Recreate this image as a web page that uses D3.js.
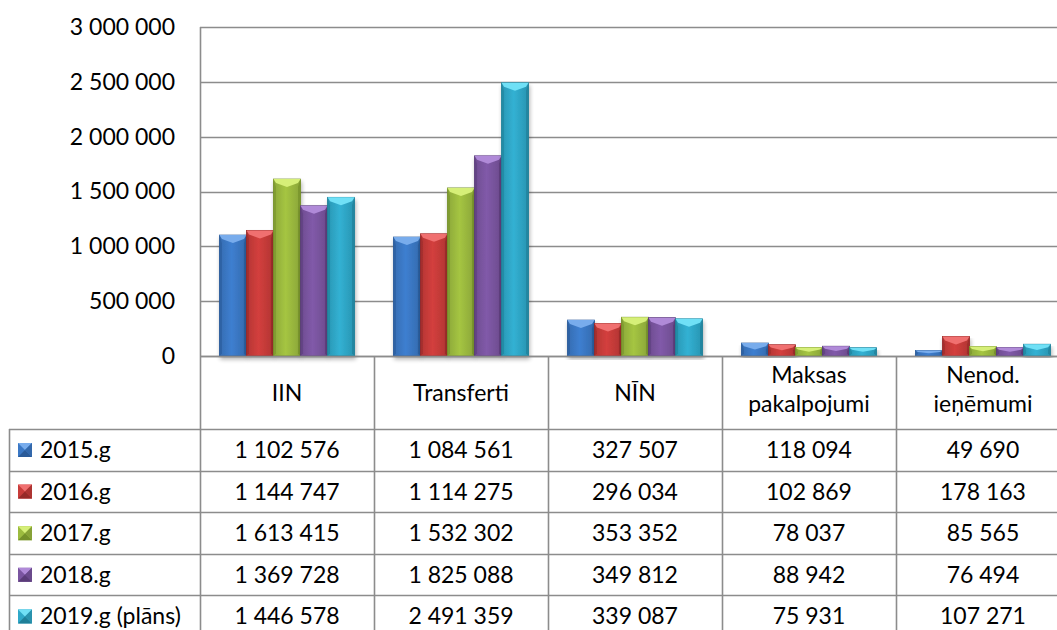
<!DOCTYPE html>
<html>
<head>
<meta charset="utf-8">
<script src="https://cdn.jsdelivr.net/npm/d3@7"></script>
<style>
  body { margin: 0; background: #fff; }
  svg { display: block; font-family: Lato, "Open Sans", sans-serif; }
</style>
</head>
<body>
<div id="chart"></div>
<script>
var svgWidth = 1057;
var svgHeight = 630;

var categories = ["IIN", "Transferti", "NĪN", "Maksas\npakalpojumi", "Nenod.\nieņēmumi"];
var seriesNames = ["2015.g", "2016.g", "2017.g", "2018.g", "2019.g (plāns)"];
var v2015 = [1102576, 1084561, 327507, 118094, 49690];
var v2016 = [1144747, 1114275, 296034, 102869, 178163];
var v2017 = [1613415, 1532302, 353352, 78037, 85565];
var v2018 = [1369728, 1825088, 349812, 88942, 76494];
var v2019 = [1446578, 2491359, 339087, 75931, 107271];
var yTicks = [0, 500000, 1000000, 1500000, 2000000, 2500000, 3000000];

var seriesValues = [v2015, v2016, v2017, v2018, v2019];

// base, light (top bevel), dark (side bevel)
var colors = [
  { base: "#3b78c5", light: "#78acec", dark: "#2a5a98" },
  { base: "#c83c3a", light: "#f07070", dark: "#962a28" },
  { base: "#9cbb3f", light: "#d6ef78", dark: "#74902a" },
  { base: "#7a55a0", light: "#b08ad8", dark: "#5a3c78" },
  { base: "#2fa8c8", light: "#70e0f6", dark: "#1f7f98" }
];

var plotLeft = 200, plotTop = 27, zeroY = 356;
var cellW = 174;
var headerBottom = 429;
var rowH = 41.6;
var tableLeft = 9;
var gridColor = "#8c8c8c";

var fmt = function(n) { return d3.format(",")(n).replace(/,/g, " "); };

var svg = d3.select("#chart").append("svg")
  .attr("width", svgWidth)
  .attr("height", svgHeight);

var defs = svg.append("defs");
defs.append("filter").attr("id", "shadow")
  .attr("x", "-20%").attr("y", "-5%").attr("width", "140%").attr("height", "115%")
  .html('<feGaussianBlur in="SourceAlpha" stdDeviation="2"/>' +
        '<feOffset dx="1" dy="3" result="b"/>' +
        '<feComponentTransfer><feFuncA type="linear" slope="0.3"/></feComponentTransfer>' +
        '<feMerge><feMergeNode/><feMergeNode in="SourceGraphic"/></feMerge>');

colors.forEach(function(c, i) {
  var g = defs.append("linearGradient").attr("id", "grad" + i)
    .attr("x1", "0").attr("x2", "1").attr("y1", "0").attr("y2", "0");
  g.append("stop").attr("offset", "0").attr("stop-color", d3.color(c.base).darker(0.3));
  g.append("stop").attr("offset", "0.45").attr("stop-color", d3.color(c.base).brighter(0.15));
  g.append("stop").attr("offset", "1").attr("stop-color", d3.color(c.base).darker(0.35));
});

// scales
var x0 = d3.scaleBand()
  .domain(categories)
  .range([plotLeft, plotLeft + cellW * categories.length])
  .padding(0);

var x1 = d3.scaleBand()
  .domain(seriesNames)
  .range([0, x0.bandwidth()])
  .paddingInner(0)
  .paddingOuter(0.72);

var y = d3.scaleLinear()
  .domain([0, 3000000])
  .range([zeroY, plotTop]);

// gridlines
svg.append("g").selectAll("line")
  .data(yTicks)
  .enter().append("line")
  .attr("x1", plotLeft).attr("x2", svgWidth)
  .attr("y1", d => Math.round(y(d)) + 0.5).attr("y2", d => Math.round(y(d)) + 0.5)
  .attr("stroke", gridColor).attr("stroke-width", 1.6);

// y axis labels
var yAxis = d3.axisLeft(y).tickValues(yTicks).tickFormat(fmt).tickSize(0).tickPadding(25);
var yAxisG = svg.append("g")
  .attr("transform", `translate(${plotLeft},0)`)
  .call(yAxis);
yAxisG.select(".domain").remove();
yAxisG.selectAll("text")
  .attr("font-size", 23)
  .attr("font-family", "Lato, sans-serif")
  .attr("fill", "#000");

// bars
var bars = svg.append("g");
seriesNames.forEach(function(s, si) {
  var c = colors[si];
  categories.forEach(function(cat, ci) {
    var val = seriesValues[si][ci];
    var bx = x0(cat) + x1(s);
    var bw = x1.bandwidth();
    var by = y(val);
    var bh = zeroY - by;
    var bev = Math.min(8, bh / 2);
    var side = Math.min(2.5, bw / 6);
    var g = bars.append("g").attr("filter", "url(#shadow)");
    g.append("rect")
      .attr("x", bx).attr("y", by).attr("width", bw).attr("height", bh)
      .attr("fill", "url(#grad" + si + ")")
      .attr("stroke", c.dark).attr("stroke-width", 0.8);
    // left and right bevel strips
    g.append("polygon")
      .attr("points", [[bx, by], [bx + side, by + bev], [bx + side, zeroY - side], [bx, zeroY]].join(" "))
      .attr("fill", c.dark).attr("opacity", 0.55);
    g.append("polygon")
      .attr("points", [[bx + bw, by], [bx + bw - side, by + bev], [bx + bw - side, zeroY - side], [bx + bw, zeroY]].join(" "))
      .attr("fill", c.dark).attr("opacity", 0.7);
    // top bevel (light chevron)
    g.append("polygon")
      .attr("points", [[bx, by], [bx + bw, by], [bx + bw - side, by + bev * 0.5], [bx + bw / 2, by + bev], [bx + side, by + bev * 0.5]].join(" "))
      .attr("fill", c.light);
  });
});

// data table
var table = svg.append("g");
var rightEdge = plotLeft + cellW * categories.length;
var tableBottom = svgHeight;

// horizontal lines
var hLines = [zeroY];
for (var r = 0; r < seriesNames.length; r++) hLines.push(Math.round(headerBottom + r * rowH));
table.selectAll("line.h")
  .data(hLines)
  .enter().append("line")
  .attr("class", "h")
  .attr("x1", (d, i) => i === 0 ? plotLeft : tableLeft)
  .attr("x2", rightEdge)
  .attr("y1", d => d + 0.5).attr("y2", d => d + 0.5)
  .attr("stroke", gridColor).attr("stroke-width", 1.6);

// vertical lines
var vLines = categories.map(d => x0(d));
table.selectAll("line.v")
  .data(vLines)
  .enter().append("line")
  .attr("class", "v")
  .attr("x1", d => d + 0.5).attr("x2", d => d + 0.5)
  .attr("y1", (d, i) => i === 0 ? plotTop : zeroY)
  .attr("y2", tableBottom)
  .attr("stroke", gridColor).attr("stroke-width", 1.6);
table.append("line")
  .attr("x1", tableLeft + 0.5).attr("x2", tableLeft + 0.5)
  .attr("y1", headerBottom).attr("y2", tableBottom)
  .attr("stroke", gridColor).attr("stroke-width", 1.6);

// category header labels
categories.forEach(function(cat) {
  var lines = cat.split("\n");
  var cx = x0(cat) + cellW / 2;
  var t = table.append("text")
    .attr("x", cx)
    .attr("text-anchor", "middle")
    .attr("font-size", 23)
    .attr("fill", "#000");
  if (lines.length === 1) {
    t.append("tspan").attr("x", cx).attr("y", 401).text(lines[0]);
  } else {
    t.append("tspan").attr("x", cx).attr("y", 383).text(lines[0]);
    t.append("tspan").attr("x", cx).attr("y", 412).text(lines[1]);
  }
});

// data rows
seriesNames.forEach(function(s, si) {
  var rowTop = headerBottom + si * rowH;
  var baseY = rowTop + 29;
  var c = colors[si];
  // legend key
  var kx = 18, ky = rowTop + 14, ks = 14;
  var key = table.append("g");
  key.append("rect").attr("x", kx).attr("y", ky).attr("width", ks).attr("height", ks).attr("fill", c.base);
  key.append("polygon")
    .attr("points", [[kx, ky], [kx + ks, ky], [kx + ks / 2, ky + ks / 2]].join(" "))
    .attr("fill", c.light);
  key.append("polygon")
    .attr("points", [[kx, ky + ks], [kx + ks, ky + ks], [kx + ks / 2, ky + ks / 2]].join(" "))
    .attr("fill", c.dark);
  key.append("polygon")
    .attr("points", [[kx + ks, ky], [kx + ks, ky + ks], [kx + ks / 2, ky + ks / 2]].join(" "))
    .attr("fill", d3.color(c.base).darker(0.4));
  table.append("text")
    .attr("x", 40).attr("y", baseY)
    .attr("font-size", 23).attr("fill", "#000")
    .text(s);
  categories.forEach(function(cat, ci) {
    table.append("text")
      .attr("x", x0(cat) + cellW / 2).attr("y", baseY)
      .attr("text-anchor", "middle")
      .attr("font-size", 23).attr("fill", "#000")
      .text(fmt(seriesValues[si][ci]));
  });
});
</script>
</body>
</html>
